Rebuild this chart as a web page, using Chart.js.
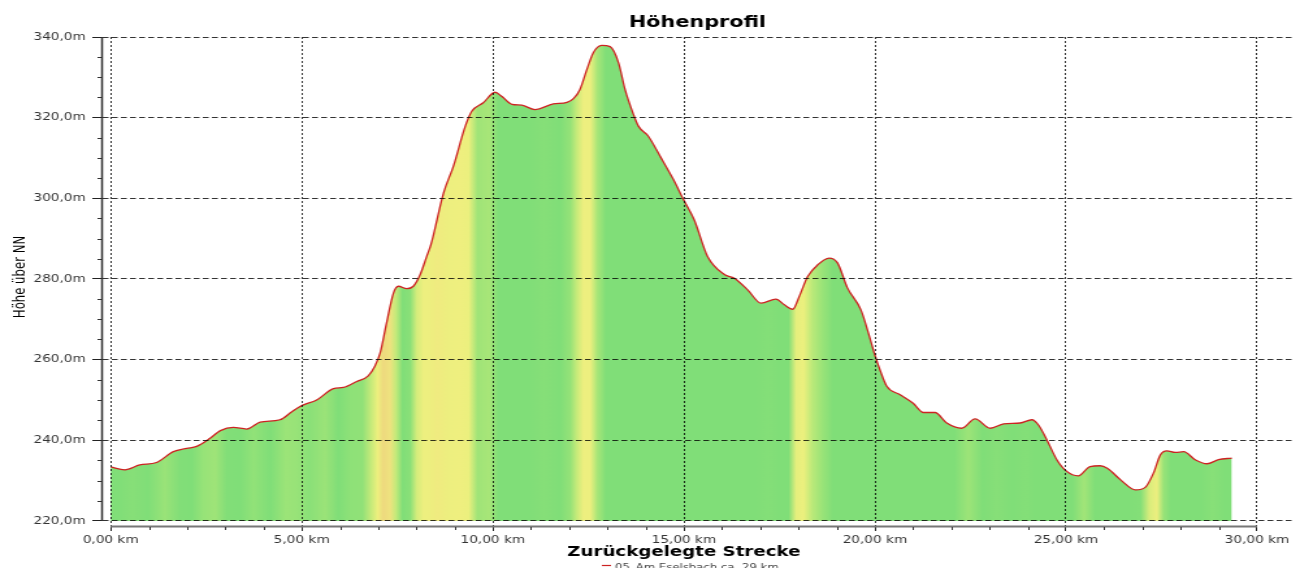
<!DOCTYPE html>
<html lang="de">
<head>
<meta charset="UTF-8">
<title>Höhenprofil</title>
<script src="https://cdn.jsdelivr.net/npm/chart.js"></script>
<style>
    html, body {
        margin: 0;
        padding: 0;
        background: #fff;
        overflow: hidden;
    }

    /* Die Vorlage ist waagerecht gestreckt: intern 1000 px breit, angezeigt 1300 px */
    .wrap {
        width: 1000px;
        height: 568px;
        transform: scaleX(1.3);
        transform-origin: 0 0;
    }
</style>
</head>
<body>
<div class="wrap"><canvas id="profil"></canvas></div>

<script>
    // Strecke in km und Höhe in m
    const distKm = [0.00, 0.37, 0.76, 1.20, 1.64, 1.99, 2.25, 2.60, 2.87, 3.21, 3.56, 3.91, 4.43, 4.74,
        5.00, 5.39, 5.83, 6.09, 6.44, 6.74, 6.92, 7.05, 7.22, 7.40, 7.53, 7.75, 7.92, 8.10, 8.27, 8.38,
        8.71, 8.97, 9.28, 9.45, 9.75, 10.06, 10.23, 10.50, 10.76, 11.10, 11.58, 11.94, 12.11, 12.28,
        12.46, 12.63, 12.85, 13.07, 13.29, 13.46, 13.68, 13.81, 14.07, 14.38, 14.73, 14.99, 15.27,
        15.62, 16.06, 16.32, 16.67, 17.02, 17.41, 17.63, 17.85, 18.02, 18.24, 18.50, 18.80, 19.02,
        19.28, 19.63, 19.83, 20.01, 20.13, 20.31, 20.66, 21.00, 21.27, 21.57, 21.88, 22.27, 22.62,
        23.02, 23.37, 23.80, 24.11, 24.28, 24.50, 24.76, 25.02, 25.32, 25.63, 25.89, 26.08, 26.43,
        26.82, 27.08, 27.29, 27.47, 27.64, 27.86, 28.08, 28.38, 28.69, 28.99, 29.34];
    const hoeheM = [233.4, 232.7, 233.9, 234.5, 237.2, 238.0, 238.5, 240.5, 242.4, 243.2, 242.8, 244.5, 245.1, 247.1,
        248.6, 250.0, 252.8, 253.1, 254.6, 256.0, 258.5, 261.6, 269.1, 276.5, 278.2, 277.6, 278.2, 281.1, 285.6, 288.5,
        301.3, 308.0, 317.9, 321.6, 323.7, 326.3, 325.3, 323.3, 323.1, 322.0, 323.4, 323.8, 324.7, 327.0,
        331.9, 336.1, 337.9, 337.6, 333.6, 327.0, 320.8, 317.9, 315.4, 310.4, 304.6, 299.7, 294.7,
        285.6, 281.1, 280.2, 277.3, 274.0, 275.0, 273.6, 272.5, 275.7, 280.6, 283.5, 285.2, 284.0,
        277.8, 272.4, 266.6, 260.8, 257.5, 253.4, 251.3, 249.2, 246.9, 246.9, 244.3, 243.0, 245.3,
        243.0, 244.1, 244.3, 245.1, 243.8, 240.1, 235.2, 232.3, 231.2, 233.5, 233.7, 233.1, 230.2,
        227.7, 228.4, 231.9, 236.4, 237.4, 237.0, 237.2, 235.2, 234.2, 235.2, 235.6];

    const yTicks = [220, 240, 260, 280, 300, 320, 340];
    const xTicks = [0, 5, 10, 15, 20, 25, 30];
    const routeName = '05_Am Eselsbach ca. 29 km';

    Chart.defaults.font.family = '"DejaVu Sans", Verdana, sans-serif';

    // Farbe nach Steigung (m/km): flach = grün, steil bergauf = gelb/orange
    const slopeStops = [
        [2, [128, 222, 120]],
        [10, [178, 232, 120]],
        [20, [236, 240, 126]],
        [38, [240, 238, 128]],
        [48, [236, 204, 124]]
    ];

    function slopeColor(s) {
        if (s <= slopeStops[0][0]) return slopeStops[0][1];
        for (let i = 1; i < slopeStops.length; i++) {
            if (s <= slopeStops[i][0]) {
                const [s0, c0] = slopeStops[i - 1];
                const [s1, c1] = slopeStops[i];
                const t = (s - s0) / (s1 - s0);
                return c0.map((v, k) => Math.round(v + (c1[k] - v) * t));
            }
        }
        return slopeStops[slopeStops.length - 1][1];
    }

    let gradCache = null;
    let gradKey = '';

    function fillGradient(context) {
        const chart = context.chart;
        const area = chart.chartArea;
        if (!area || !chart.scales.x) return 'rgb(128,222,120)';
        const key = area.left + '/' + area.right;
        if (gradCache && gradKey === key) return gradCache;

        const xs = chart.scales.x;
        const x0 = xs.getPixelForValue(distKm[0]);
        const x1 = xs.getPixelForValue(distKm[distKm.length - 1]);
        const g = chart.ctx.createLinearGradient(x0, 0, x1, 0);
        for (let i = 0; i < distKm.length - 1; i++) {
            const s = (hoeheM[i + 1] - hoeheM[i]) / (distKm[i + 1] - distKm[i]);
            const mid = (xs.getPixelForValue((distKm[i] + distKm[i + 1]) / 2) - x0) / (x1 - x0);
            g.addColorStop(Math.min(1, Math.max(0, mid)), 'rgb(' + slopeColor(s).join(',') + ')');
        }
        gradCache = g;
        gradKey = key;
        return g;
    }

    // Achsenlinien, Zwischenstriche, Titel und Legende
    const extras = {
        id: 'extras',
        afterDraw(chart) {
            const { ctx, chartArea: a } = chart;
            const x = chart.scales.x;
            const y = chart.scales.y;
            const yTop = y.getPixelForValue(yTicks[yTicks.length - 1]);
            const yBot = y.getPixelForValue(yTicks[0]);
            const xA = x.getPixelForValue(xTicks[0]);
            const xB = x.getPixelForValue(xTicks[xTicks.length - 1]);
            ctx.save();

            // y-Achse
            ctx.strokeStyle = '#333';
            ctx.lineWidth = 1.5;
            ctx.beginPath();
            ctx.moveTo(a.left - 0.5, yTop);
            ctx.lineTo(a.left - 0.5, yBot);
            ctx.stroke();

            // x-Achse
            ctx.strokeStyle = '#777';
            ctx.lineWidth = 2;
            ctx.beginPath();
            ctx.moveTo(xA, a.bottom + 0.5);
            ctx.lineTo(xB, a.bottom + 0.5);
            ctx.stroke();

            // Zwischenstriche
            ctx.strokeStyle = '#333';
            ctx.lineWidth = 1;
            ctx.beginPath();
            for (let v = yTicks[0]; v <= yTicks[yTicks.length - 1]; v += 5) {
                if (v % 20 === 0) continue;
                const py = Math.round(y.getPixelForValue(v)) + 0.5;
                ctx.moveTo(a.left - 4, py);
                ctx.lineTo(a.left, py);
            }
            for (let k = xTicks[0]; k <= xTicks[xTicks.length - 1]; k += 1) {
                if (k % 5 === 0) continue;
                const px = Math.round(x.getPixelForValue(k)) + 0.5;
                ctx.moveTo(px, a.bottom + 1);
                ctx.lineTo(px, a.bottom + 4);
            }
            ctx.stroke();

            ctx.fillStyle = '#000';
            ctx.textAlign = 'center';
            ctx.textBaseline = 'alphabetic';

            // Haupttitel
            ctx.font = 'bold 16px "DejaVu Sans"';
            ctx.fillText('Höhenprofil', (a.left + a.right) / 2, 27);

            // x-Titel
            const cx = (xA + xB) / 2;
            ctx.font = 'bold 14px "DejaVu Sans"';
            ctx.fillText('Zurückgelegte Strecke', cx, 556);

            // y-Titel
            ctx.save();
            ctx.translate(15.4, 277);
            ctx.rotate(-Math.PI / 2);
            ctx.font = '13px "DejaVu Sans Condensed", "Liberation Sans", sans-serif';
            ctx.textBaseline = 'middle';
            ctx.fillText('Höhe über NN', 0, 0);
            ctx.restore();

            // Legende
            ctx.font = '9px "DejaVu Sans"';
            const tw = ctx.measureText(routeName).width;
            const lx = cx + 5 - (tw + 10) / 2;
            ctx.strokeStyle = '#cc2222';
            ctx.lineWidth = 1.2;
            ctx.beginPath();
            ctx.moveTo(lx, 565.5);
            ctx.lineTo(lx + 7, 565.5);
            ctx.stroke();
            ctx.fillStyle = '#444';
            ctx.textAlign = 'left';
            ctx.fillText(routeName, lx + 10, 569.5);

            ctx.restore();
        }
    };

    new Chart(document.getElementById('profil'), {
        type: 'line',
        data: {
            datasets: [{
                label: routeName,
                data: distKm.map((d, i) => ({ x: d, y: hoeheM[i] })),
                borderColor: '#cc2222',
                borderWidth: 1.3,
                pointRadius: 0,
                cubicInterpolationMode: 'monotone',
                fill: { value: 220 },
                backgroundColor: fillGradient
            }]
        },
        options: {
            responsive: true,
            maintainAspectRatio: false,
            animation: false,
            layout: { padding: { top: 37, right: 6, bottom: 8, left: 0 } },
            plugins: {
                legend: { display: false },
                title: { display: false },
                tooltip: { enabled: false }
            },
            scales: {
                x: {
                    type: 'linear',
                    min: -0.209,
                    max: 30.92,
                    afterBuildTicks: s => { s.ticks = xTicks.map(v => ({ value: v })); },
                    afterFit: s => { s.height = 34; },
                    grid: {
                        color: 'rgba(0,0,0,0.8)',
                        lineWidth: 1,
                        tickLength: 5,
                        tickColor: '#222',
                        tickBorderDash: [],
                        z: 1
                    },
                    border: { display: false, dash: [2, 2] },
                    ticks: {
                        autoSkip: false,
                        maxRotation: 0,
                        padding: 3,
                        color: '#333',
                        font: { size: 10.5 },
                        callback: v => v.toFixed(2).replace('.', ',') + ' km'
                    }
                },
                y: {
                    min: 218.76,
                    max: 340,
                    afterBuildTicks: s => { s.ticks = yTicks.map(v => ({ value: v })); },
                    afterFit: s => { s.width = 79; },
                    grid: {
                        color: 'rgba(0,0,0,0.8)',
                        lineWidth: 1,
                        tickLength: 8,
                        tickColor: '#222',
                        tickBorderDash: [],
                        z: 1
                    },
                    border: { display: false, dash: [4.5, 2.5] },
                    ticks: {
                        padding: 5,
                        color: '#333',
                        font: { size: 10.5 },
                        callback: v => v.toFixed(1).replace('.', ',') + 'm'
                    }
                }
            }
        },
        plugins: [extras]
    });
</script>
</body>
</html>
